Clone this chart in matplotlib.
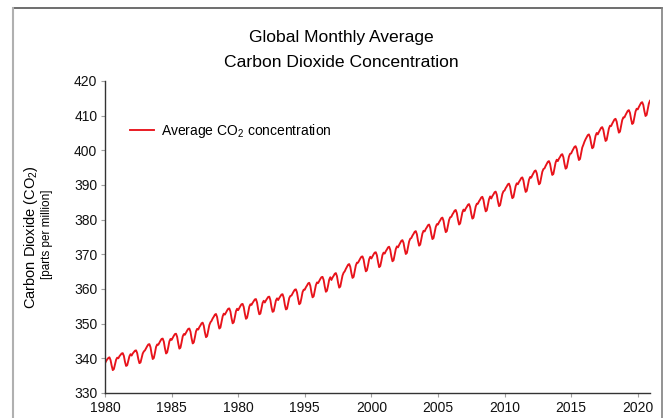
import numpy as np
import matplotlib
matplotlib.use('Agg')
import matplotlib.pyplot as plt
from matplotlib.lines import Line2D

plt.rcParams['font.family'] = ['Liberation Sans', 'DejaVu Sans']
plt.rcParams['mathtext.fontset'] = 'custom'
plt.rcParams['mathtext.rm'] = 'Liberation Sans'
plt.rcParams['mathtext.default'] = 'regular'

# global monthly mean CO2 (ppm), one row per year, Jan..Dec
first_year = 1980
co2_monthly = [
    [338.6, 339.2, 339.7, 340.1, 340.3, 339.5, 337.9, 336.6, 336.9, 338.2, 339.6, 340.2],  # 1980
    [340.0, 340.6, 341.0, 341.4, 341.5, 340.7, 339.0, 337.8, 338.0, 339.3, 340.6, 341.2],
    [340.8, 341.4, 341.8, 342.2, 342.3, 341.5, 339.8, 338.6, 338.8, 340.1, 341.4, 342.0],
    [342.3, 342.9, 343.5, 344.0, 344.1, 343.2, 341.3, 339.8, 340.1, 341.6, 343.3, 344.0],
    [343.9, 344.5, 345.1, 345.6, 345.7, 344.8, 342.9, 341.4, 341.7, 343.2, 344.9, 345.6],
    [345.3, 345.9, 346.5, 347.0, 347.1, 346.2, 344.3, 342.8, 343.1, 344.6, 346.3, 347.0],  # 1985
    [346.8, 347.4, 348.0, 348.5, 348.6, 347.7, 345.8, 344.3, 344.6, 346.1, 347.8, 348.5],
    [348.3, 349.0, 349.5, 350.1, 350.3, 349.4, 347.5, 346.1, 346.4, 348.0, 349.6, 350.4],
    [350.8, 351.5, 352.0, 352.6, 352.8, 351.9, 350.0, 348.6, 348.9, 350.5, 352.1, 352.9],
    [352.6, 353.2, 353.8, 354.3, 354.4, 353.5, 351.6, 350.1, 350.4, 351.9, 353.6, 354.3],
    [353.9, 354.5, 355.1, 355.6, 355.7, 354.8, 352.9, 351.4, 351.7, 353.2, 354.9, 355.6],  # 1990
    [355.4, 356.0, 356.5, 357.0, 357.1, 356.1, 354.1, 352.7, 352.9, 354.4, 356.0, 356.6],
    [356.1, 356.7, 357.2, 357.7, 357.8, 356.8, 354.8, 353.4, 353.6, 355.1, 356.7, 357.3],
    [356.8, 357.4, 357.9, 358.4, 358.5, 357.5, 355.5, 354.1, 354.3, 355.8, 357.4, 358.0],
    [358.1, 358.7, 359.3, 359.8, 359.9, 359.0, 357.1, 355.6, 355.9, 357.4, 359.1, 359.8],
    [359.8, 360.5, 361.0, 361.6, 361.8, 360.9, 359.0, 357.6, 357.9, 359.5, 361.1, 361.9],  # 1995
    [361.7, 362.3, 362.9, 363.4, 363.5, 362.6, 360.7, 359.2, 359.5, 361.0, 362.7, 363.4],
    [362.6, 363.3, 363.8, 364.4, 364.6, 363.7, 361.8, 360.4, 360.7, 362.3, 363.9, 364.7],
    [365.1, 365.8, 366.4, 367.0, 367.2, 366.4, 364.6, 363.2, 363.5, 365.2, 366.8, 367.6],
    [367.6, 368.2, 368.8, 369.3, 369.4, 368.5, 366.6, 365.1, 365.4, 366.9, 368.6, 369.3],
    [368.8, 369.4, 370.0, 370.5, 370.6, 369.7, 367.8, 366.3, 366.6, 368.1, 369.8, 370.5],  # 2000
    [370.2, 370.9, 371.4, 372.0, 372.2, 371.3, 369.4, 368.0, 368.3, 369.9, 371.5, 372.3],
    [372.0, 372.7, 373.3, 373.9, 374.1, 373.3, 371.5, 370.1, 370.4, 372.1, 373.7, 374.5],
    [374.7, 375.4, 375.9, 376.5, 376.7, 375.8, 373.9, 372.5, 372.8, 374.4, 376.0, 376.8],
    [376.6, 377.3, 377.8, 378.4, 378.6, 377.7, 375.8, 374.4, 374.7, 376.3, 377.9, 378.7],
    [378.6, 379.3, 379.8, 380.4, 380.6, 379.7, 377.8, 376.4, 376.7, 378.3, 379.9, 380.7],  # 2005
    [380.8, 381.5, 382.0, 382.6, 382.8, 381.9, 380.0, 378.6, 378.9, 380.5, 382.1, 382.9],
    [382.5, 383.2, 383.7, 384.3, 384.5, 383.6, 381.7, 380.3, 380.6, 382.2, 383.8, 384.6],
    [384.6, 385.3, 385.8, 386.4, 386.6, 385.7, 383.8, 382.4, 382.7, 384.3, 385.9, 386.7],
    [386.1, 386.8, 387.3, 387.9, 388.1, 387.2, 385.3, 383.9, 384.2, 385.8, 387.4, 388.2],
    [388.4, 389.1, 389.6, 390.2, 390.4, 389.5, 387.6, 386.2, 386.5, 388.1, 389.7, 390.5],  # 2010
    [390.2, 390.9, 391.4, 392.0, 392.2, 391.3, 389.4, 388.0, 388.3, 389.9, 391.5, 392.3],
    [392.1, 392.8, 393.4, 394.0, 394.2, 393.4, 391.6, 390.2, 390.5, 392.2, 393.8, 394.6],
    [394.8, 395.5, 396.1, 396.7, 396.9, 396.1, 394.3, 392.9, 393.2, 394.9, 396.5, 397.3],
    [396.9, 397.6, 398.1, 398.7, 398.9, 398.0, 396.1, 394.7, 395.0, 396.6, 398.2, 399.0],
    [399.1, 399.8, 400.4, 401.0, 401.2, 400.4, 398.6, 397.2, 397.5, 399.2, 400.8, 401.6],  # 2015
    [402.5, 403.2, 403.8, 404.4, 404.6, 403.8, 402.0, 400.6, 400.9, 402.6, 404.2, 405.0],
    [404.6, 405.3, 405.9, 406.5, 406.7, 405.9, 404.1, 402.7, 403.0, 404.7, 406.3, 407.1],
    [407.0, 407.7, 408.3, 408.9, 409.1, 408.3, 406.5, 405.1, 405.4, 407.1, 408.7, 409.5],
    [409.5, 410.2, 410.8, 411.4, 411.6, 410.8, 409.0, 407.6, 407.9, 409.6, 411.2, 412.0],
    [411.8, 412.5, 413.1, 413.7, 413.9, 413.1, 411.3, 409.9, 410.2, 411.9, 413.5, 414.3],  # 2020
]

x_ticks = [1980, 1985, 1990, 1995, 2000, 2005, 2010, 2015, 2020]
x_labels = ['1980', '1985', '1980', '1995', '2000', '2005', '2010', '2015', '2020']
y_ticks = [330, 340, 350, 360, 370, 380, 390, 400, 410, 420]

co2 = np.array(co2_monthly).ravel()
t = first_year + np.arange(len(co2)) / 12.0

W, H = 663, 418
fig = plt.figure(figsize=(W / 100, H / 100), dpi=100)
ax = fig.add_axes([105 / W, 1 - 393 / H, 545 / W, 312 / H])

ax.plot(t, co2, color='#e8131b', lw=1.35, label='Average CO$_2$ concentration')

ax.set_xlim(1980, 2020.92)
ax.set_ylim(330, 420)
ax.set_xticks(x_ticks)
ax.set_xticklabels(x_labels)
ax.set_yticks(y_ticks)
ax.tick_params(axis='both', direction='out', length=3, width=0.8, color='#a0a0a0',
               labelsize=10, labelcolor='#111111', pad=2.5)

for s in ['top', 'right']:
    ax.spines[s].set_visible(False)
for s in ['left', 'bottom']:
    ax.spines[s].set_color('#333333')
    ax.spines[s].set_linewidth(1.0)

ax.legend(loc='center left', bbox_to_anchor=(25 / 545, (393 - 131) / 312), frameon=False,
          borderpad=0, borderaxespad=0, handlelength=1.75, handletextpad=0.5, fontsize=10)

# title
fig.text(341 / W, 1 - 42 / H, 'Global Monthly Average', ha='center', va='baseline', fontsize=12.6)
fig.text(341 / W, 1 - 67 / H, 'Carbon Dioxide Concentration', ha='center', va='baseline', fontsize=12.6)

# y label, two lines
fig.text(31 / W, 1 - 237 / H, 'Carbon Dioxide (CO$_2$)', rotation=90, ha='center', va='center', fontsize=10.5)
fig.text(47 / W, 1 - 234 / H, '[parts per million]', rotation=90, ha='center', va='center', fontsize=8.5)

# outer frame (no bottom edge)
fig.add_artist(Line2D([12.5 / W, 662 / W], [1 - 8 / H, 1 - 8 / H], color='#555555', lw=1.2))
fig.add_artist(Line2D([12.5 / W, 12.5 / W], [0, 1 - 8 / H], color='#b0b0b0', lw=1.5))
fig.add_artist(Line2D([662 / W, 662 / W], [0, 1 - 8 / H], color='#808080', lw=1.2))

fig.savefig('out.png', dpi=100)
